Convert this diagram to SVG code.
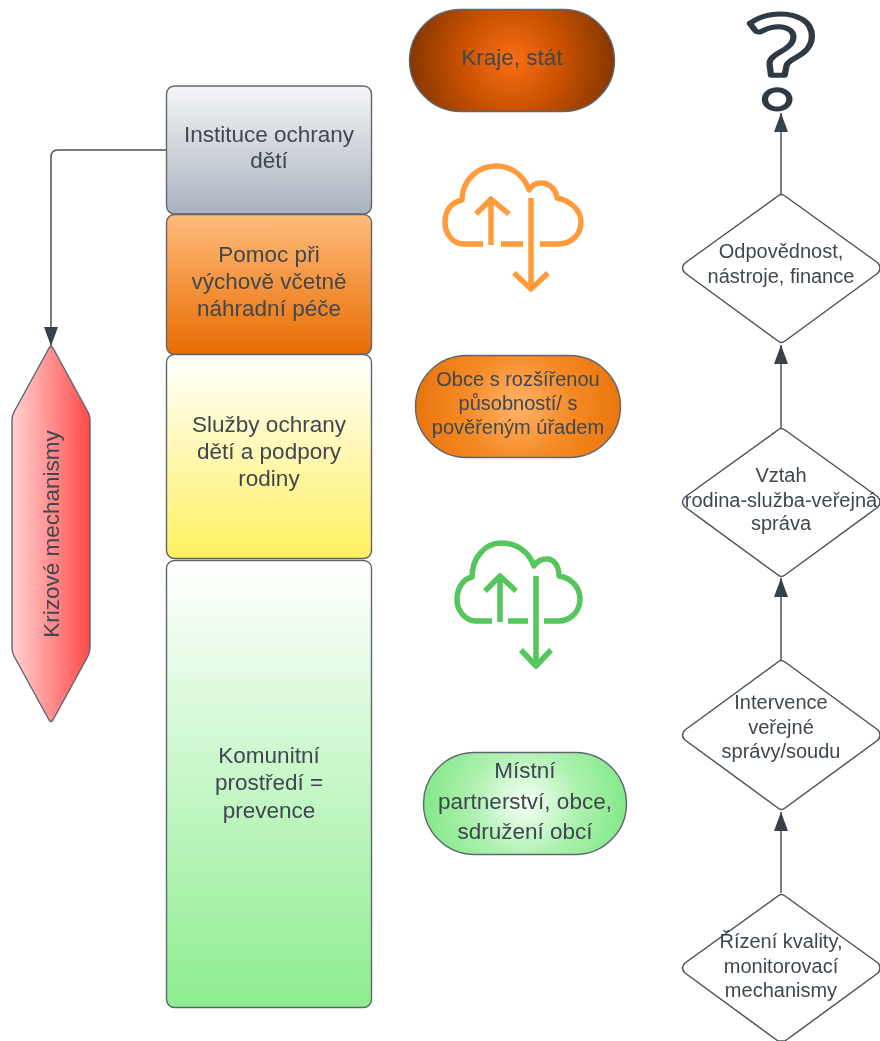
<svg xmlns="http://www.w3.org/2000/svg" width="880" height="1041" viewBox="0 0 880 1041">
<style>
text{font-family:"Liberation Sans",Arial,sans-serif;fill:#3f4650;text-anchor:middle}
.t22{font-size:22.500px}
.t20{font-size:20px}
.box{stroke:#5e6670;stroke-width:1.4}
.dia{fill:#fff;stroke:#4c535c;stroke-width:1.5;stroke-linejoin:round}
.edge{fill:none;stroke:#4c535c;stroke-width:1.5}
.cloud{fill:none;stroke-width:5.500}
.orange{stroke:#ff9a3c}
.green{stroke:#55c65c}
</style>
<defs>
<filter id="soft" x="-2%" y="-2%" width="104%" height="104%"><feGaussianBlur stdDeviation="0.45"/></filter>
<marker id="arrow" markerUnits="userSpaceOnUse" markerWidth="20" markerHeight="14" refX="19" refY="7" orient="auto"><path d="M0 0L19 7L0 14Z" fill="#39414c"/></marker>
<linearGradient id="gGrey" x1="0" y1="0" x2="0" y2="1"><stop offset="0" stop-color="#f5f6f8"/><stop offset="1" stop-color="#a9b2bd"/></linearGradient>
<linearGradient id="gOrange" x1="0" y1="0" x2="0" y2="1"><stop offset="0" stop-color="#ffbc7c"/><stop offset="1" stop-color="#e86c00"/></linearGradient>
<linearGradient id="gYellow" x1="0" y1="0" x2="0" y2="1"><stop offset="0" stop-color="#ffffff"/><stop offset="1" stop-color="#fff05f"/></linearGradient>
<linearGradient id="gGreen" x1="0" y1="0" x2="0" y2="1"><stop offset="0" stop-color="#ffffff"/><stop offset="1" stop-color="#8ded8f"/></linearGradient>
<linearGradient id="gRed" x1="0" y1="0" x2="1" y2="0"><stop offset="0" stop-color="#ffd2d2"/><stop offset="1" stop-color="#ff4a4a"/></linearGradient>
<radialGradient id="rKraje" gradientUnits="userSpaceOnUse" cx="512" cy="60" r="110"><stop offset="0" stop-color="#f96f14"/><stop offset="0.45" stop-color="#cb5203"/><stop offset="1" stop-color="#7c3400"/></radialGradient>
<radialGradient id="rObce" gradientUnits="userSpaceOnUse" cx="518" cy="406" r="108"><stop offset="0" stop-color="#ffb469"/><stop offset="0.5" stop-color="#f58a25"/><stop offset="1" stop-color="#e8730a"/></radialGradient>
<radialGradient id="rMistni" gradientUnits="userSpaceOnUse" cx="525" cy="803" r="106"><stop offset="0" stop-color="#f6fff6"/><stop offset="0.5" stop-color="#aef1b0"/><stop offset="1" stop-color="#7fe884"/></radialGradient>
</defs>
<g filter="url(#soft)">
<g id="connectors">
<path class="edge" d="M167 150H58Q51 150 51 157V346" marker-end="url(#arrow)"/>
<path class="edge" d="M781 194V113" marker-end="url(#arrow)"/>
<path class="edge" d="M781 428V345" marker-end="url(#arrow)"/>
<path class="edge" d="M781 660V578" marker-end="url(#arrow)"/>
<path class="edge" d="M781 893V812" marker-end="url(#arrow)"/>
</g>
<g id="n-instituce">
<rect class="box" x="166.500" y="86" width="205" height="128" rx="8" fill="url(#gGrey)"/>
<text class="t22" x="269" y="142">Instituce ochrany</text>
<text class="t22" x="269" y="168">dětí</text>
</g>
<g id="n-pomoc">
<rect class="box" x="166.500" y="214.500" width="205" height="140" rx="8" fill="url(#gOrange)"/>
<text class="t22" x="269" y="262">Pomoc při</text>
<text class="t22" x="269" y="289">výchově včetně</text>
<text class="t22" x="269" y="316">náhradní péče</text>
</g>
<g id="n-sluzby">
<rect class="box" x="166.500" y="354.500" width="205" height="204" rx="8" fill="url(#gYellow)"/>
<text class="t22" x="269" y="432">Služby ochrany</text>
<text class="t22" x="269" y="459">dětí a podpory</text>
<text class="t22" x="269" y="486">rodiny</text>
</g>
<g id="n-komunitni">
<rect class="box" x="166.500" y="560.500" width="205" height="447" rx="8" fill="url(#gGreen)"/>
<text class="t22" x="269" y="763">Komunitní</text>
<text class="t22" x="269" y="790">prostředí =</text>
<text class="t22" x="269" y="818">prevence</text>
</g>
<g id="n-krizove">
<path class="box" fill="url(#gRed)" d="M49 348Q51 345 53 348L88 412Q90 416 90 420V648Q90 652 88 656L53 720Q51 723 49 720L14 656Q12 652 12 648V420Q12 416 14 412Z"/>
<text class="t22" transform="translate(59,534) rotate(-90)">Krizové mechanismy</text>
</g>
<g id="n-kraje">
<rect class="box" x="409.500" y="9.500" width="205" height="102" rx="51" fill="url(#rKraje)"/>
<text class="t22" x="512" y="65">Kraje, stát</text>
</g>
<g id="n-obce">
<rect class="box" x="415.500" y="355.500" width="205" height="102" rx="51" fill="url(#rObce)"/>
<text class="t20" x="518" y="386">Obce s rozšířenou</text>
<text class="t20" x="518" y="410">působností/ s</text>
<text class="t20" x="518" y="434">pověřeným úřadem</text>
</g>
<g id="n-mistni">
<rect class="box" x="423.500" y="752.500" width="203" height="102" rx="51" fill="url(#rMistni)"/>
<text class="t22" x="525" y="778">Místní</text>
<text class="t22" x="525" y="809">partnerství, obce,</text>
<text class="t22" x="525" y="839">sdružení obcí</text>
</g>
<g id="n-cloud-orange" class="cloud orange" stroke-linejoin="round">
<path d="M483 244H464C452 244 445 233 445 222C445 210 452 202 462 200C462 180 478 166 496 166C511 166 524 175 529 190C532 185 537 183 541 183C550 183 556 190 557 198C571 201 581 210 581 222C581 234 572 244 558 244H540"/>
<path d="M501 244H523"/>
<path d="M491 245V200M476 214L491 199L509 214"/>
<path d="M531 198V288M514 273L531 289L548 273"/>
</g>
<g id="n-cloud-green" class="cloud green" stroke-linejoin="round">
<path d="M492 621H476C465 621 457 610 457 600C457 588 463 579 472 577C472 558 485 543 501 543C517 543 529 552 534 566C537 561 542 559 547 559C554 559 559 566 559 576C572 578 580 588 580 599C580 611 571 621 558 621H544"/>
<path d="M508 621H528"/>
<path d="M500 622V577M485 591L500 576L516 591"/>
<path d="M536 576V665M521 650L536 666L551 650"/>
</g>
<g id="n-question">
<text transform="translate(781,108) scale(1.26,1)" style="font-family:'Lato',sans-serif;font-size:128px;font-weight:700;fill:#fff;stroke:#2f3a47;stroke-width:5px;stroke-linejoin:round">?</text>
</g>
<g id="n-odpovednost">
<path class="dia" d="M778 196Q781 193 785 196L878 263Q882 268 878 273L785 341Q781 344 778 341L685 273Q680 268 685 263Z"/>
<text class="t20" x="781" y="258">Odpovědnost,</text>
<text class="t20" x="781" y="283">nástroje, finance</text>
</g>
<g id="n-vztah">
<path class="dia" d="M778 430Q781 427 785 430L878 497Q882 502 878 507L785 575Q781 578 778 575L685 507Q680 502 685 497Z"/>
<text class="t20" x="781" y="482">Vztah</text>
<text class="t20" x="781" y="507">rodina-služba-veřejná</text>
<text class="t20" x="781" y="530">správa</text>
</g>
<g id="n-intervence">
<path class="dia" d="M778 662Q781 659 785 662L878 730Q882 735 878 740L785 808Q781 811 778 808L685 740Q680 735 685 730Z"/>
<text class="t20" x="781" y="709">Intervence</text>
<text class="t20" x="781" y="734">veřejné</text>
<text class="t20" x="781" y="758">správy/soudu</text>
</g>
<g id="n-rizeni">
<path class="dia" d="M778 896Q781 893 785 896L878 963Q882 968 878 973L785 1041H778L685 973Q680 968 685 963Z"/>
<text class="t20" x="781" y="948">Řízení kvality,</text>
<text class="t20" x="781" y="973">monitorovací</text>
<text class="t20" x="781" y="997">mechanismy</text>
</g>
</g>
</svg>
